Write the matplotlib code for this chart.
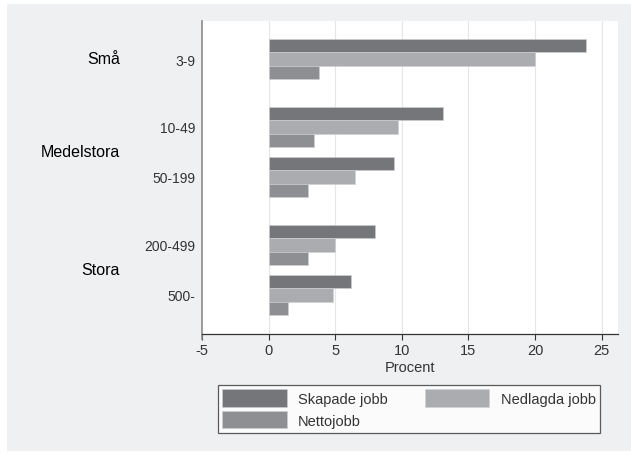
import matplotlib
matplotlib.use('Agg')
import matplotlib.pyplot as plt
import matplotlib.transforms as mtransforms
from matplotlib.patches import Rectangle
import numpy as np

# data
groups = ["Små", "Medelstora", "Stora"]
group_sizes = [1, 2, 2]
categories = ["3-9", "10-49", "50-199", "200-499", "500-"]
skapade = [23.8, 13.1, 9.4, 8.0, 6.2]
nedlagda = [20.0, 9.7, 6.5, 5.0, 4.8]
netto = [3.8, 3.4, 2.95, 2.95, 1.45]
series_names = ["Skapade jobb", "Nedlagda jobb", "Nettojobb"]

COLORS = ["#75767a", "#abacaf", "#8e8f92"]
BG = "#eff0f2"
FONT = ['Liberation Sans', 'DejaVu Sans']
plt.rcParams['font.family'] = FONT

# category positions: step 1 within a group, extra gap between groups
GROUP_GAP = 0.36
pos = []
y = 0.0
for gi, n in enumerate(group_sizes):
    if gi > 0:
        y += GROUP_GAP
    for k in range(n):
        pos.append(y)
        y += 1
pos = np.array(pos)
bar_h = 0.268

fig = plt.figure(figsize=(6.31, 4.56), dpi=100, facecolor='white')
fig.patches.append(Rectangle((7 / 631, 1 - 452 / 456), 624 / 631, 447 / 456,
                             transform=fig.transFigure, facecolor=BG,
                             edgecolor='none', zorder=-10))
ax = fig.add_axes([202 / 631, 1 - 335 / 456, (617.7 - 202) / 631, (335 - 22) / 456])
ax.set_facecolor('white')

bars = []
for i, (vals, c) in enumerate(zip([skapade, nedlagda, netto], COLORS)):
    b = ax.barh(pos + (i - 1) * bar_h, vals, height=bar_h, color=c,
                edgecolor='#d0d0d2', linewidth=0.4, label=series_names[i], zorder=3)
    bars.append(b)

ax.set_xlim(-5, 26.2)
ax.set_ylim(5.5, -0.76)
ax.set_xticks(np.arange(-5, 26, 5))
ax.set_xticklabels([str(v) for v in range(-5, 26, 5)], fontsize=10.5, color='#333333')
for xv in range(0, 26, 5):
    ax.axvline(xv, color='#e6e6e8', linewidth=0.8, zorder=1)
ax.set_yticks(pos)
ax.set_yticklabels(categories, fontsize=10, color='#333333')
ax.tick_params(axis='y', length=0, pad=5)
ax.tick_params(axis='x', length=4.5, width=0.8, color='#333333', pad=2)
ax.set_xlabel("Procent", fontsize=10.5, color='#333333', labelpad=2)

for s in ['top', 'right']:
    ax.spines[s].set_visible(False)
ax.spines['left'].set_color('#8a8a8a')
ax.spines['left'].set_linewidth(1.2)
ax.spines['left'].set_bounds(5.6, -0.76)
ax.spines['bottom'].set_color('#333333')
ax.spines['bottom'].set_linewidth(0.9)

# group labels to the left of the category labels
trans = mtransforms.blended_transform_factory(fig.transFigure, ax.transData)
start = 0
for g, n in zip(groups, group_sizes):
    yc = pos[start:start + n].mean()
    ax.text(120 / 631, yc, g, transform=trans, ha='right', va='center',
            fontsize=11.5, color='black')
    start += n

# order so that rows read: Skapade, Nedlagda / Nettojobb
order = [0, 2, 1]
leg = fig.legend([bars[i] for i in order], [series_names[i] for i in order],
                 loc='upper left', ncol=2, mode='expand',
                 bbox_to_anchor=(218 / 631, 1 - 440 / 456, (600 - 218) / 631, (440 - 386) / 456),
                 fontsize=10.5, frameon=True, fancybox=False, handlelength=4.4,
                 handleheight=1.45, handletextpad=0.8, labelspacing=0.3,
                 borderpad=0.3, columnspacing=1.0, borderaxespad=0)
leg.get_frame().set_edgecolor('#333333')
leg.get_frame().set_linewidth(0.9)
for t in leg.get_texts():
    t.set_color('#333333')

fig.savefig('out.png', dpi=100, facecolor='white')
